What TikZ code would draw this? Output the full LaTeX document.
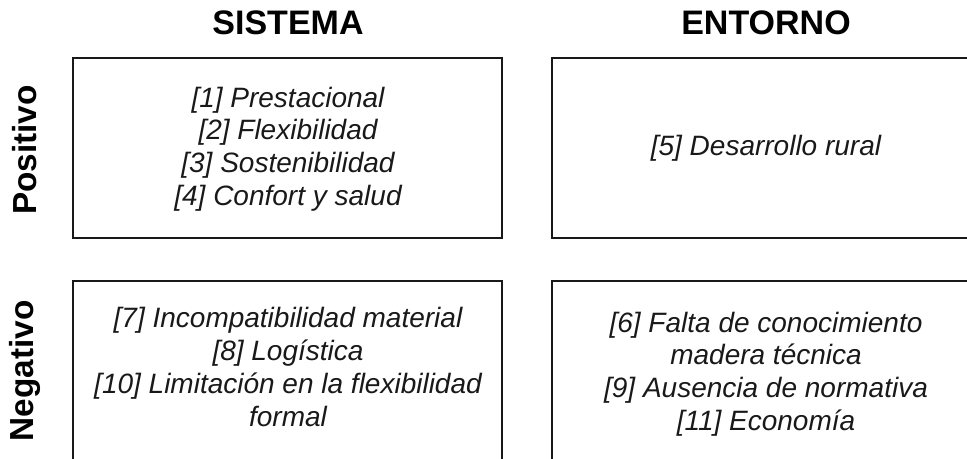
\documentclass[tikz,border=0pt]{standalone}
\usepackage{fontspec}
\setmainfont{Liberation Sans}
\begin{document}
\begin{tikzpicture}[x=0.75pt,y=-0.75pt,
  cell/.style={draw=black!90,line width=1.4pt,rectangle,inner sep=0pt},
  itemtext/.style={font=\itshape\fontsize{21}{24.6}\selectfont,align=center,text=black!90,inner sep=0pt},
  head/.style={font=\bfseries\fontsize{25.5}{30}\selectfont,inner sep=0pt,text=black},
  side/.style={font=\bfseries\fontsize{25}{30}\selectfont,inner sep=0pt,rotate=90,text=black}]
\useasboundingbox (0,0) rectangle (967,459);
\clip (0,0) rectangle (967,459);
\node[head] (hs) at (288,23) {SISTEMA};
\node[head] (he) at (766,23) {ENTORNO};
\node[side] (pos) at (25,150) {Positivo};
\node[side] (neg) at (25,371) {Negativo};
\node[cell,minimum width=429*0.75pt,minimum height=180*0.75pt] (b1) at (287.5,148) {};
\node[cell,minimum width=430*0.75pt,minimum height=180*0.75pt] (b2) at (767,148) {};
\node[cell,minimum width=429*0.75pt,minimum height=190*0.75pt] (b3) at (287.5,376) {};
\node[cell,minimum width=430*0.75pt,minimum height=190*0.75pt] (b4) at (767,376) {};
\node[itemtext] (t1) at (288,149) {[1] Prestacional\\{}[2] Flexibilidad\\{}[3] Sostenibilidad\\{}[4] Confort y salud};
\node[itemtext] (t2) at (766,148) {[5] Desarrollo rural};
\node[itemtext] (t3) at (288,367) {[7] Incompatibilidad material\\{}[8] Logística\\{}[10] Limitación en la flexibilidad\\ formal};
\node[itemtext] (t4) at (766,374) {[6] Falta de conocimiento\\ madera técnica\\{}[9] Ausencia de normativa\\{}[11] Economía};
\end{tikzpicture}
\end{document}
